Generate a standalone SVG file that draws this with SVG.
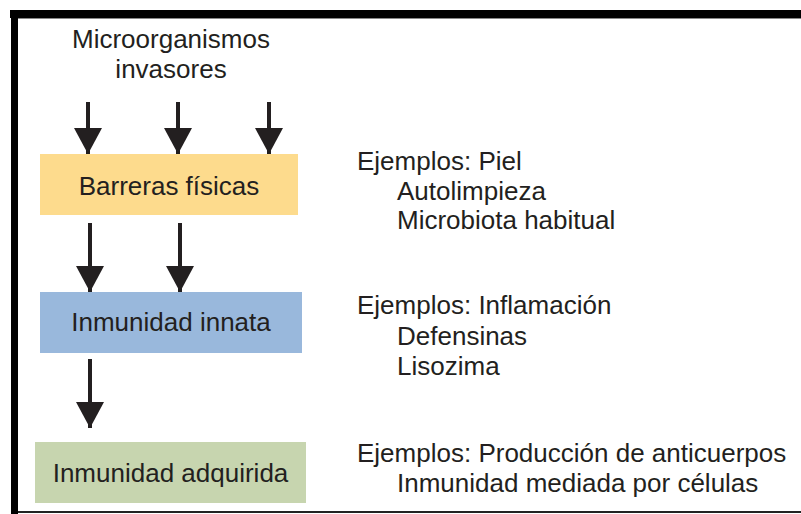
<svg xmlns="http://www.w3.org/2000/svg" width="801" height="514" viewBox="0 0 801 514">
<style>
.t{font-family:"Liberation Sans",Arial,sans-serif;font-size:26px;fill:#231f20}
.c{text-anchor:middle}
.sh{stroke:#231f20;stroke-width:4;fill:none}
</style>
<defs>
<marker id="ah" markerUnits="userSpaceOnUse" markerWidth="30" markerHeight="28" refX="27" refY="14.5" orient="auto" viewBox="0 0 28 29">
<polygon points="0,0 27,14.5 0,29" fill="#231f20"/>
</marker>
</defs>
<rect width="801" height="514" fill="#fff"/>
<g id="frame">
<rect x="10" y="10" width="791" height="8" fill="#000"/>
<rect x="18" y="18" width="783" height="1" fill="#888"/>
<rect x="11" y="10" width="7" height="504" fill="#000"/>
<rect x="18" y="511" width="783" height="2" fill="#222"/>
</g>
<g id="source">
<text class="t c" x="171" y="48">Microorganismos</text>
<text class="t c" x="171" y="78">invasores</text>
</g>
<g id="barreras">
<rect x="40" y="154" width="258" height="61" fill="#fddb8d"/>
<text class="t c" x="169" y="195">Barreras físicas</text>
</g>
<g id="innata">
<rect x="40" y="292" width="262" height="61" fill="#99b8dc"/>
<text class="t c" x="171" y="331">Inmunidad innata</text>
</g>
<g id="adquirida">
<rect x="35" y="442" width="271" height="61" fill="#c7d5af"/>
<text class="t c" x="170.5" y="482">Inmunidad adquirida</text>
</g>
<g id="connectors">
<line class="sh" x1="88" y1="102" x2="88" y2="154" marker-end="url(#ah)"/>
<line class="sh" x1="178" y1="102" x2="178" y2="154" marker-end="url(#ah)"/>
<line class="sh" x1="269" y1="102" x2="269" y2="154" marker-end="url(#ah)"/>
<line class="sh" x1="90" y1="223" x2="90" y2="292" marker-end="url(#ah)"/>
<line class="sh" x1="180" y1="223" x2="180" y2="292" marker-end="url(#ah)"/>
<line class="sh" x1="90" y1="359" x2="90" y2="428" marker-end="url(#ah)"/>
</g>
<g id="ejemplos1">
<text class="t" x="357" y="170">Ejemplos: Piel</text>
<text class="t" x="397" y="200">Autolimpieza</text>
<text class="t" x="397" y="229">Microbiota habitual</text>
</g>
<g id="ejemplos2">
<text class="t" x="357" y="314">Ejemplos: Inflamación</text>
<text class="t" x="397" y="345">Defensinas</text>
<text class="t" x="397" y="375">Lisozima</text>
</g>
<g id="ejemplos3">
<text class="t" x="357" y="462">Ejemplos: Producción de anticuerpos</text>
<text class="t" x="397" y="492">Inmunidad mediada por células</text>
</g>
</svg>
